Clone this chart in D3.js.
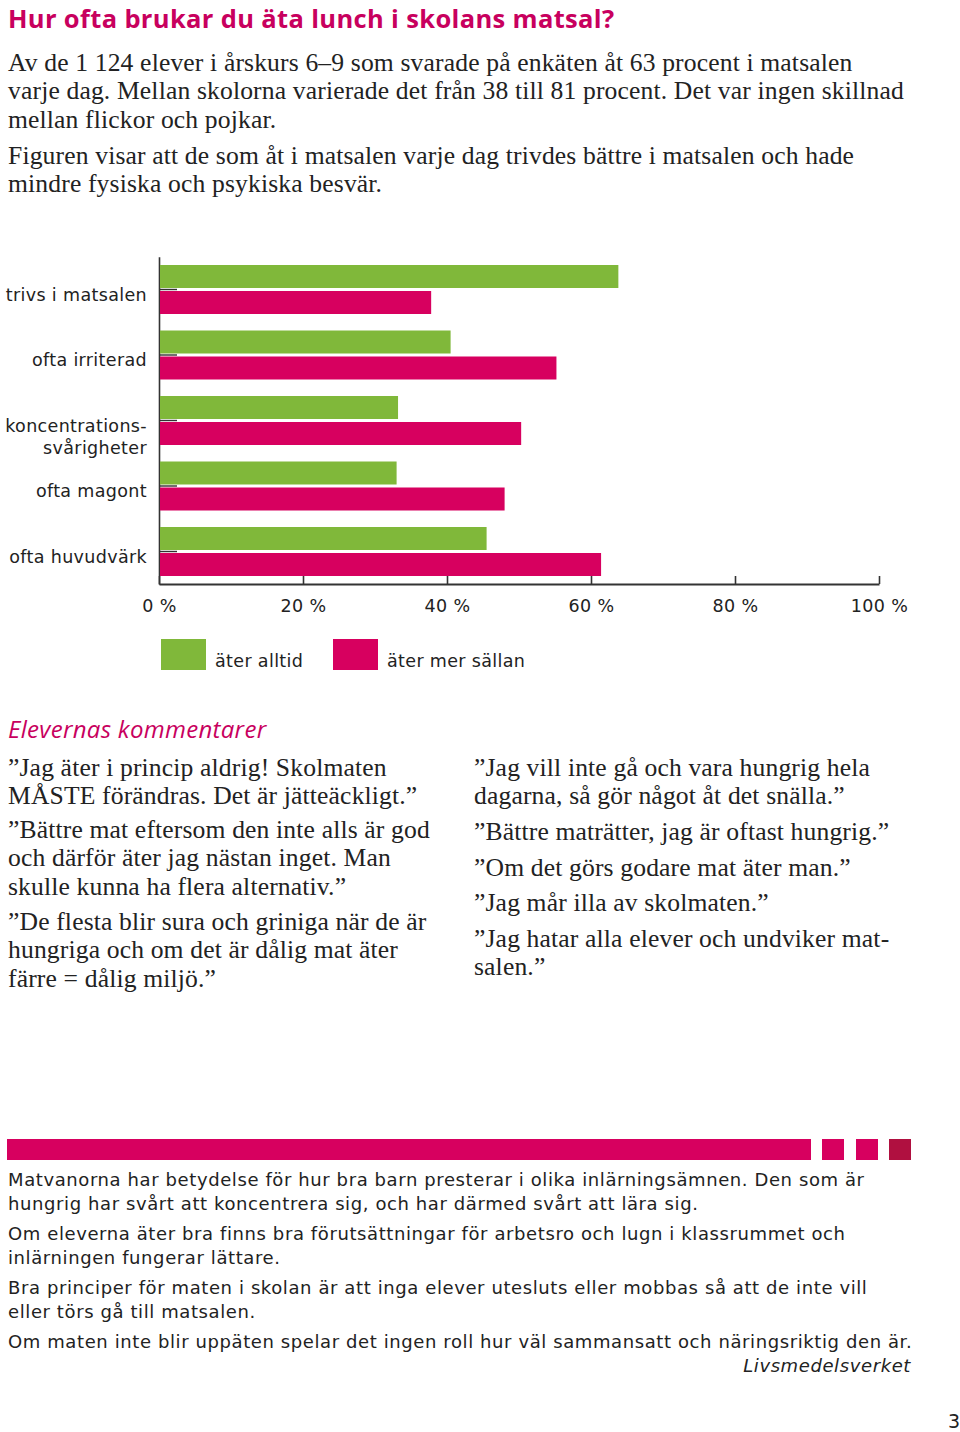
<!DOCTYPE html>
<html lang="sv">
<head>
<meta charset="utf-8">
<script src="https://cdn.jsdelivr.net/npm/d3@7"></script>
<style>
  html, body { margin: 0; padding: 0; background: #fff; }
  svg { display: block; }
</style>
</head>
<body>
<svg id="page" width="960" height="1432"></svg>
<script>
// ---------- data ----------
const categories = ["trivs i matsalen", "ofta irriterad", "koncentrations-\nsvårigheter", "ofta magont", "ofta huvudvärk"];
const seriesNames = ["äter alltid", "äter mer sällan"];
const aterAlltid = [63.8, 40.5, 33.2, 33, 45.5];
const aterMerSallan = [37.8, 55.2, 50.3, 48, 61.4];
const tickValues = [0, 20, 40, 60, 80, 100];

const titleText = "Hur ofta brukar du äta lunch i skolans matsal?";
const introLines = [
  ["Av de 1 124 elever i årskurs 6–9 som svarade på enkäten åt 63 procent i matsalen",
   "varje dag. Mellan skolorna varierade det från 38 till 81 procent. Det var ingen skillnad",
   "mellan flickor och pojkar."],
  ["Figuren visar att de som åt i matsalen varje dag trivdes bättre i matsalen och hade",
   "mindre fysiska och psykiska besvär."]
];
const commentsHeading = "Elevernas kommentarer";
const commentsLeft = [
  ["”Jag äter i princip aldrig! Skolmaten", "MÅSTE förändras. Det är jätteäckligt.”"],
  ["”Bättre mat eftersom den inte alls är god", "och därför äter jag nästan inget. Man", "skulle kunna ha flera alternativ.”"],
  ["”De flesta blir sura och griniga när de är", "hungriga och om det är dålig mat äter", "färre = dålig miljö.”"]
];
const commentsRight = [
  ["”Jag vill inte gå och vara hungrig hela", "dagarna, så gör något åt det snälla.”"],
  ["”Bättre maträtter, jag är oftast hungrig.”"],
  ["”Om det görs godare mat äter man.”"],
  ["”Jag mår illa av skolmaten.”"],
  ["”Jag hatar alla elever och undviker mat-", "salen.”"]
];
const factLines = [
  ["Matvanorna har betydelse för hur bra barn presterar i olika inlärningsämnen. Den som är",
   "hungrig har svårt att koncentrera sig, och har därmed svårt att lära sig."],
  ["Om eleverna äter bra finns bra förutsättningar för arbetsro och lugn i klassrummet och",
   "inlärningen fungerar lättare."],
  ["Bra principer för maten i skolan är att inga elever utesluts eller mobbas så att de inte vill",
   "eller törs gå till matsalen."],
  ["Om maten inte blir uppäten spelar det ingen roll hur väl sammansatt och näringsriktig den är."]
];
const sourceText = "Livsmedelsverket";
const pageNumber = "3";

// ---------- styles ----------
const GREEN = "#80b83a";
const PINK = "#d7005f";
const DARKRED = "#b01040";
const TEXT = "#222";
const SANS = "'DejaVu Sans', Verdana, sans-serif";
const SERIF = "'Liberation Serif', 'DejaVu Serif', serif";
const HEAD = "'Open Sans', 'Noto Sans', sans-serif";

const svg = d3.select("#page");
svg.append("rect").attr("width", 960).attr("height", 1432).attr("fill", "#fff");

// ---------- title & intro ----------
svg.append("text").attr("x", 8).attr("y", 28)
  .attr("font-family", HEAD).attr("font-weight", 700).attr("font-size", 25.5)
  .attr("letter-spacing", 0.35)
  .attr("fill", "#c8005e").text(titleText);

function block(lines, x, y, lh, font, size, fill, ls, style) {
  const t = svg.append("text").attr("x", x).attr("y", y)
    .attr("font-family", font).attr("font-size", size).attr("fill", fill)
    .attr("letter-spacing", ls || 0);
  if (style) t.attr("font-style", style);
  lines.forEach((l, i) => t.append("tspan").attr("x", x).attr("y", y + i * lh).text(l));
}
const SERIF_SIZE = 25.6, SERIF_LS = 0.15;
block(introLines[0], 8, 71, 28.3, SERIF, SERIF_SIZE, TEXT, SERIF_LS);
block(introLines[1], 8, 164, 28.3, SERIF, SERIF_SIZE, TEXT, SERIF_LS);

// ---------- chart ----------
const x = d3.scaleLinear().domain([0, 100]).range([159, 879]);
const y = d3.scaleBand().domain(categories).range([256.75, 584.25]).paddingInner(0).paddingOuter(0);
const sub = d3.scaleBand().domain(seriesNames).range([-24.5, 24.5]).paddingInner(0.115).paddingOuter(0);
const colors = d3.scaleOrdinal().domain(seriesNames).range([GREEN, PINK]);
const seriesData = [aterAlltid, aterMerSallan];
const CH_SIZE = 17.5, CH_LS = 0.35;

// y axis (inward ticks at category centres)
const yAxis = svg.append("g").attr("transform", `translate(${x(0)},0)`)
  .call(d3.axisLeft(y).tickSizeInner(-18).tickSizeOuter(0).tickFormat(""));
yAxis.select(".domain").attr("stroke", "#333").attr("stroke-width", 1.6);
yAxis.selectAll(".tick line").attr("stroke", "#333").attr("stroke-width", 1.4);

// bars
const groups = svg.append("g").selectAll("g").data(categories).join("g")
  .attr("transform", d => `translate(0,${y(d) + y.bandwidth() / 2})`);
groups.selectAll("rect").data((d, i) => seriesNames.map((s, j) => ({ s, v: seriesData[j][i] })))
  .join("rect")
  .attr("x", x(0) + 1)
  .attr("y", d => sub(d.s))
  .attr("width", d => x(d.v) - x(0) - 1)
  .attr("height", sub.bandwidth())
  .attr("fill", d => colors(d.s));

// category labels
groups.append("text")
  .attr("text-anchor", "end").attr("font-family", SANS).attr("font-size", CH_SIZE)
  .attr("letter-spacing", CH_LS).attr("fill", TEXT)
  .each(function (d) {
    const parts = d.split("\n");
    const t = d3.select(this);
    parts.forEach((p, i) => t.append("tspan").attr("x", 147).attr("y", 11 + i * 22).text(p));
  });

// x axis
const xAxis = svg.append("g").attr("transform", "translate(0,584)")
  .call(d3.axisBottom(x).tickValues(tickValues).tickSizeInner(-8).tickSizeOuter(0).tickPadding(16)
    .tickFormat(d => d + " %"));
xAxis.select(".domain").attr("stroke", "#333").attr("stroke-width", 2);
xAxis.selectAll(".tick line").attr("stroke", "#333").attr("stroke-width", 1.6);
xAxis.selectAll(".tick text").attr("font-family", SANS).attr("font-size", CH_SIZE)
  .attr("letter-spacing", CH_LS).attr("fill", TEXT);

// legend
const legendX = [161, 333];
const leg = svg.append("g").selectAll("g").data(seriesNames).join("g")
  .attr("transform", (d, i) => `translate(${legendX[i]},639)`);
leg.append("rect").attr("width", 45).attr("height", 31).attr("fill", d => colors(d));
leg.append("text").attr("x", 54).attr("y", 28).attr("font-family", SANS).attr("font-size", CH_SIZE)
  .attr("letter-spacing", CH_LS).attr("fill", TEXT).text(d => d);

// ---------- comments ----------
svg.append("text").attr("x", 8).attr("y", 738)
  .attr("font-family", HEAD).attr("font-style", "italic").attr("font-size", 24)
  .attr("letter-spacing", 0.3)
  .attr("fill", "#c8005e").text(commentsHeading);

const leftStarts = [776, 838, 930];
commentsLeft.forEach((c, i) => block(c, 8, leftStarts[i], 28.3, SERIF, SERIF_SIZE, TEXT, SERIF_LS));
const rightStarts = [776, 840, 876, 911, 947];
commentsRight.forEach((c, i) => block(c, 474, rightStarts[i], 28.3, SERIF, SERIF_SIZE, TEXT, SERIF_LS));

// ---------- fact box ----------
svg.append("rect").attr("x", 7).attr("y", 1139).attr("width", 804).attr("height", 21).attr("fill", PINK);
const squares = [[822, PINK], [856, PINK], [889, DARKRED]];
svg.append("g").selectAll("rect").data(squares).join("rect")
  .attr("x", d => d[0]).attr("y", 1139).attr("width", 22).attr("height", 21).attr("fill", d => d[1]);

const FACT_SIZE = 18, FACT_LS = 0.6;
const factStarts = [1186, 1240, 1294, 1348];
factLines.forEach((f, i) => block(f, 8, factStarts[i], 23.5, SANS, FACT_SIZE, TEXT, FACT_LS));
svg.append("text").attr("x", 911).attr("y", 1372).attr("text-anchor", "end")
  .attr("font-family", SANS).attr("font-style", "italic").attr("font-size", FACT_SIZE)
  .attr("letter-spacing", FACT_LS).attr("fill", TEXT)
  .text(sourceText);
svg.append("text").attr("x", 960).attr("y", 1428).attr("text-anchor", "end")
  .attr("font-family", SANS).attr("font-size", 19).attr("fill", TEXT).text(pageNumber);
</script>
</body>
</html>
